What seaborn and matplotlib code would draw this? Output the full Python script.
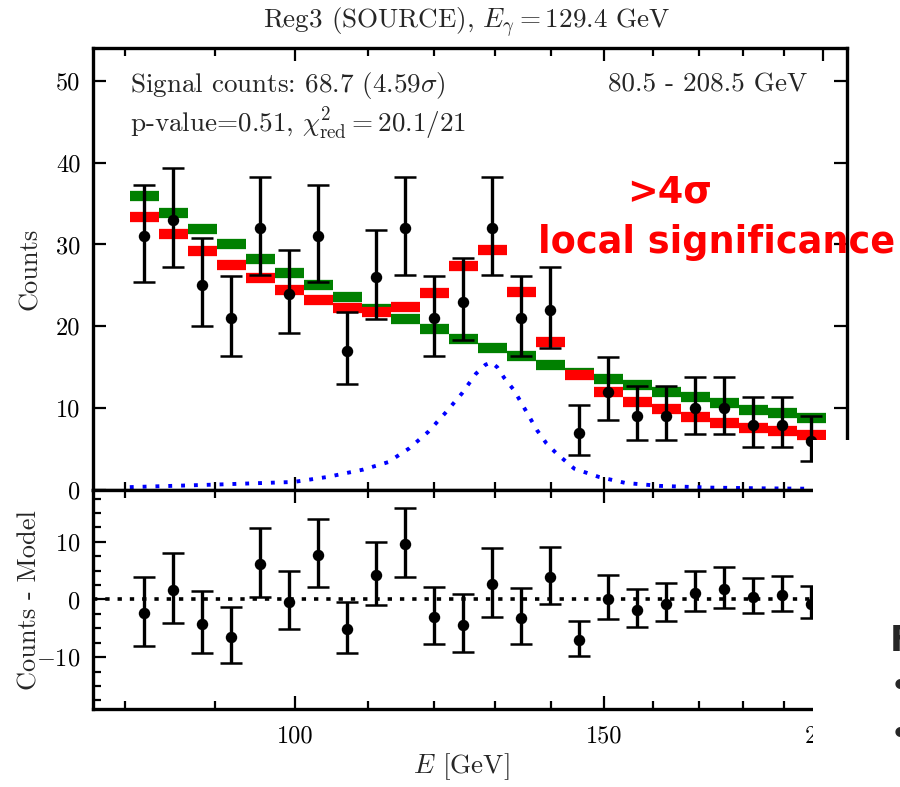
import numpy as np
import matplotlib
matplotlib.use("Agg")
import matplotlib.pyplot as plt
import seaborn as sns
from matplotlib.ticker import FixedLocator, FixedFormatter, NullFormatter, MultipleLocator
from matplotlib.patches import Rectangle

# ---- data -------------------------------------------------------------
fit_lo, fit_hi = 80.5, 208.5          # fit range [GeV], 25 log bins
n_fit_bins = 25
n_shown = 24

counts = [31, 33, 25, 21, 32, 24, 31, 17, 26, 32, 21, 23,
          32, 21, 22, 7, 12, 9, 9, 10, 10, 8, 8, 6]
err_lo = [5.6, 5.75, 5.0, 4.6, 5.7, 4.8, 5.6, 4.1, 5.1, 5.7, 4.6, 4.7,
          5.7, 4.6, 4.7, 2.7, 3.4, 2.9, 2.9, 3.2, 3.2, 2.8, 2.8, 2.4]
err_hi = [6.3, 6.3, 5.8, 5.2, 6.3, 5.3, 6.3, 4.8, 5.8, 6.3, 5.2, 5.3,
          6.3, 5.2, 5.2, 3.4, 4.3, 3.7, 3.7, 3.8, 3.8, 3.3, 3.3, 3.1]

model_bkg = [35.9, 33.8, 31.9, 30.1, 28.2, 26.5, 25.1, 23.6, 22.1, 20.9, 19.65, 18.4,
             17.4, 16.35, 15.3, 14.3, 13.55, 12.8, 12.0, 11.3, 10.6, 9.8, 9.35, 8.75]
model_tot = [33.4, 31.3, 29.25, 27.5, 25.9, 24.4, 23.25, 22.2, 21.8, 22.4, 24.1, 27.4,
             29.3, 24.2, 18.05, 14.05, 12.0, 10.8, 9.85, 8.87, 8.2, 7.6, 7.2, 6.75]

line_E = [80.5, 89.8, 99.8, 104.4, 109.4, 113.0, 116.2, 119.1, 121.8, 124.5, 126.8,
          128.4, 129.4, 130.4, 131.6, 133.3, 135.3, 137.4, 139.1, 140.9, 144.3,
          149.0, 154.3, 161.4, 172.4, 185.0, 206.0]
line_counts = [0.35, 0.65, 0.98, 1.6, 2.5, 3.4, 5.1, 7.1, 9.4, 11.8, 14.2,
               15.3, 15.6, 15.0, 13.7, 12.2, 9.8, 7.3, 5.7, 4.5, 2.6,
               1.6, 0.86, 0.5, 0.29, 0.2, 0.12]

xmajor = [100, 150, 200]
xminor = [80, 90, 110, 120, 130, 140, 160, 170, 180, 190]
ymajor_top = [0, 10, 20, 30, 40, 50]
ymajor_res = [-10, 0, 10]

title = r"Reg3 (SOURCE), $E_\gamma=$129.4 GeV"
info1 = r"Signal counts: 68.7 (4.59$\sigma$)"
info2 = r"p-value=0.51, $\chi^2_{\rm red}=$20.1/21"
info_range = "80.5 - 208.5 GeV"

# ---- derived binning ---------------------------------------------------
edges = np.geomspace(fit_lo, fit_hi, n_fit_bins + 1)[: n_shown + 1]
centers = np.sqrt(edges[:-1] * edges[1:])
counts_a = np.array(counts, float)
resid = counts_a - np.array(model_tot)

# ---- style -------------------------------------------------------------
sns.set_style("ticks")
plt.rcParams["font.family"] = ["cmr10", "DejaVu Serif"]
plt.rcParams["mathtext.fontset"] = "cm"
plt.rcParams["axes.unicode_minus"] = False
plt.rcParams["axes.formatter.use_mathtext"] = True

fig = plt.figure(figsize=(9, 7.87), dpi=100)
ax = fig.add_axes([0.1033, 0.3774, 0.8378, 0.5616])
axr = fig.add_axes([0.1033, 0.0991, 0.8378, 0.2783])

for a in (ax, axr):
    a.set_xscale("log")
    a.set_xlim(76.7, 206.4)
    for s in a.spines.values():
        s.set_linewidth(2.4)
        s.set_color("black")
    a.xaxis.set_major_locator(FixedLocator(xmajor))
    a.xaxis.set_minor_locator(FixedLocator(xminor))
    a.xaxis.set_minor_formatter(NullFormatter())
    a.tick_params(which="both", direction="in", top=True, right=True,
                  colors="black", width=1.6, labelsize=17.5)
    a.tick_params(which="major", length=9.5, pad=9)
    a.tick_params(which="minor", length=5.5)

eb_style = dict(fmt="none", ecolor="black", elinewidth=2.4, capsize=8,
                capthick=1.8, zorder=5)

# ---- top panel ---------------------------------------------------------
ax.hlines(model_bkg, edges[:-1], edges[1:], colors="#008000", lw=7.4,
          capstyle="butt", zorder=2)
ax.hlines(model_tot, edges[:-1], edges[1:], colors="#ff0000", lw=7.4,
          capstyle="butt", zorder=3)
sns.lineplot(x=line_E, y=line_counts, ax=ax, color="#0000ff", lw=2.8,
             linestyle=(0, (1, 2.3)), zorder=2)
ax.errorbar(centers, counts_a, yerr=[err_lo, err_hi], **eb_style)
sns.scatterplot(x=centers, y=counts_a, ax=ax, color="black", s=68,
                edgecolor="black", linewidth=0, zorder=6)
ax.set_ylim(0, 54)
ax.yaxis.set_major_locator(FixedLocator(ymajor_top))
ax.yaxis.set_major_formatter(FixedFormatter([str(v) for v in ymajor_top]))
ax.tick_params(axis="x", labelbottom=False)
ax.set_xlabel("")
ax.set_ylabel("")

ax.text(0.049, 0.9005, info1, transform=ax.transAxes, fontsize=19.5,
        ha="left", va="baseline")
ax.text(0.049, 0.810, info2, transform=ax.transAxes, fontsize=19.5,
        ha="left", va="baseline")
ax.text(0.947, 0.9005, info_range, transform=ax.transAxes, fontsize=19.5,
        ha="right", va="baseline")

# ---- residual panel ----------------------------------------------------
axr.axhline(0, color="black", lw=2.6, linestyle=(0, (1.2, 2.2)), zorder=2)
axr.errorbar(centers, resid, yerr=[err_lo, err_hi], **eb_style)
sns.scatterplot(x=centers, y=resid, ax=axr, color="black", s=68,
                edgecolor="black", linewidth=0, zorder=6)
axr.set_ylim(-19, 19)
axr.yaxis.set_major_locator(FixedLocator(ymajor_res))
axr.yaxis.set_major_formatter(FixedFormatter([f"${v}$" for v in ymajor_res]))
axr.yaxis.set_minor_locator(MultipleLocator(2.5))
axr.xaxis.set_major_formatter(FixedFormatter([str(v) for v in xmajor]))
axr.tick_params(axis="x", which="major", pad=12)
axr.set_xlabel("")
axr.set_ylabel("")

# ---- labels ------------------------------------------------------------
fig.text(0.519, 0.9644, title, fontsize=19.5, ha="center", va="baseline")
fig.text(0.033, 0.6586, "Counts", fontsize=19, rotation=90, ha="center", va="center")
fig.text(0.033, 0.2376, "Counts - Model", fontsize=19, rotation=90, ha="center", va="center")
fig.text(0.513, 0.018, r"$E$ [GeV]", fontsize=19.5, ha="center", va="baseline")

# annotation of the line significance
fig.text(0.744, 0.7433, ">4σ", fontsize=26.4, fontweight="bold", color="#ff0000",
         family="DejaVu Sans", ha="center", va="baseline", zorder=12)
fig.text(0.5978, 0.6785, "local significance", fontsize=26.4, fontweight="bold",
         color="#ff0000", family="DejaVu Sans", ha="left", va="baseline", zorder=12)

# panel on the right edge with the start of a bullet list
fig.patches.append(Rectangle((0.9033, 0.0), 0.0967, 0.4409, transform=fig.transFigure,
                             facecolor="white", edgecolor="none", zorder=10))
fig.text(0.989, 0.173, "F", fontsize=25, fontweight="bold", family="DejaVu Sans",
         ha="left", va="baseline", zorder=11)
fig.text(0.988, 0.127, "•", fontsize=26, family="DejaVu Sans",
         ha="left", va="center", zorder=11)
fig.text(0.988, 0.066, "•", fontsize=26, family="DejaVu Sans",
         ha="left", va="center", zorder=11)

fig.savefig("out.png", dpi=100, facecolor="white")
